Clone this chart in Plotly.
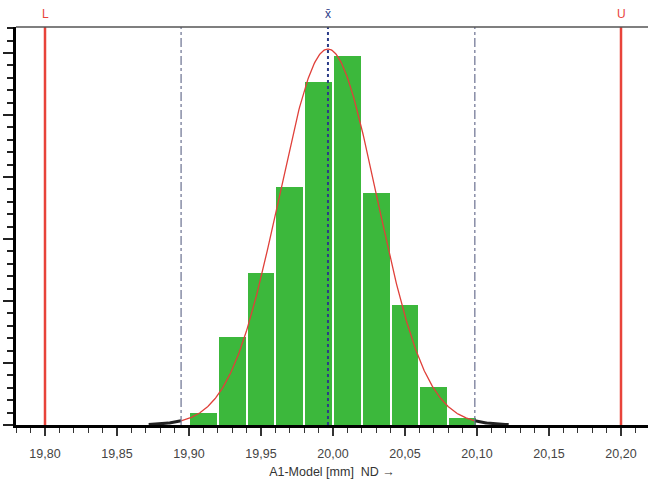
import numpy as np
import plotly.graph_objects as go

# Histogram of measured values (bin width 0.02 mm)
bin_centers = [19.91, 19.93, 19.95, 19.97, 19.99, 20.01, 20.03, 20.05, 20.07, 20.09]
counts = [10, 71, 123, 192, 277, 298, 187, 97, 31, 6]
bin_width = 0.02

# Specification limits and fitted normal distribution
LSL = 19.80
USL = 20.20
MEAN = 19.9965
SIGMA = 0.0340

tick_vals = [19.80, 19.85, 19.90, 19.95, 20.00, 20.05, 20.10, 20.15, 20.20]

n_total = sum(counts)
lo3, hi3 = MEAN - 3 * SIGMA, MEAN + 3 * SIGMA


def density(x):
    return n_total * bin_width / (SIGMA * np.sqrt(2 * np.pi)) * np.exp(-0.5 * ((x - MEAN) / SIGMA) ** 2)


x_in = np.linspace(lo3, hi3, 400)
x_left = np.linspace(19.872, lo3, 40)
x_right = np.linspace(hi3, 20.122, 40)

fig = go.Figure()
fig.add_trace(go.Bar(
    x=bin_centers, y=counts, width=[bin_width * 0.93] * len(counts),
    marker=dict(color="#3cb83c", line=dict(width=0)),
    showlegend=False, hoverinfo="skip",
))
for xs in (x_left, x_right):
    fig.add_trace(go.Scatter(x=xs, y=density(xs), mode="lines",
                             line=dict(color="#222222", width=3),
                             showlegend=False, hoverinfo="skip"))
fig.add_trace(go.Scatter(x=x_in, y=density(x_in), mode="lines",
                         line=dict(color="#e0403a", width=1.3),
                         showlegend=False, hoverinfo="skip"))

# Limit lines and distribution markers
for xv in (LSL, USL):
    fig.add_shape(type="line", xref="x", yref="paper", x0=xv, x1=xv, y0=0, y1=1,
                  line=dict(color="#e8433a", width=2.5))
for xv in (lo3, hi3):
    fig.add_shape(type="line", xref="x", yref="paper", x0=xv, x1=xv, y0=0, y1=1,
                  line=dict(color="#6a7090", width=1.2, dash="dashdot"))
fig.add_shape(type="line", xref="x", yref="paper", x0=MEAN, x1=MEAN, y0=0, y1=1,
              line=dict(color="#2c3c88", width=2, dash="3px,3px"))
# Top frame line
fig.add_shape(type="line", xref="paper", yref="paper", x0=0, x1=1, y0=1, y1=1,
              line=dict(color="#555555", width=1.5))

for xv, txt, col in ((LSL, "L", "#e8433a"), (USL, "U", "#e8433a"), (MEAN, "x\u0304", "#2c3c88")):
    fig.add_annotation(x=xv, xref="x", y=1, yref="paper", text=txt, showarrow=False,
                       yanchor="bottom", yshift=4,
                       font=dict(family="Liberation Sans, Arial", size=12, color=col))

x_min = LSL - 29 / 1440
x_max = x_min + 632 / 1440

fig.update_layout(
    width=648, height=490,
    margin=dict(l=16, r=0, t=27, b=65),
    paper_bgcolor="white", plot_bgcolor="white",
    separators=",.",
    bargap=0,
    font=dict(family="Liberation Sans, Arial", size=12, color="#444444"),
    xaxis=dict(
        range=[x_min, x_max], tickvals=tick_vals, tickformat=".2f",
        showgrid=False, zeroline=False, showline=True, linecolor="black", linewidth=2.5,
        ticks="outside", ticklen=8, tickwidth=1.5, tickcolor="#333333",
        ticklabelstandoff=7,
        minor=dict(dtick=0.01, tick0=19.80, ticks="outside", ticklen=5, tickwidth=1.2,
                   tickcolor="#333333", showgrid=False),
        tickfont=dict(size=12.5, color="#444444"),
        title=dict(text="A1-Model [mm]  ND \u2192", font=dict(size=12.5, color="#333333"), standoff=8),
    ),
    yaxis=dict(
        range=[0, 321], dtick=50, showticklabels=False,
        showgrid=False, zeroline=False, showline=True, linecolor="black", linewidth=3,
        ticks="outside", ticklen=10, tickwidth=2, tickcolor="#222222",
        minor=dict(dtick=10, ticks="outside", ticklen=6, tickwidth=2,
                   tickcolor="#222222", showgrid=False),
    ),
)

fig.write_html("out.html")
